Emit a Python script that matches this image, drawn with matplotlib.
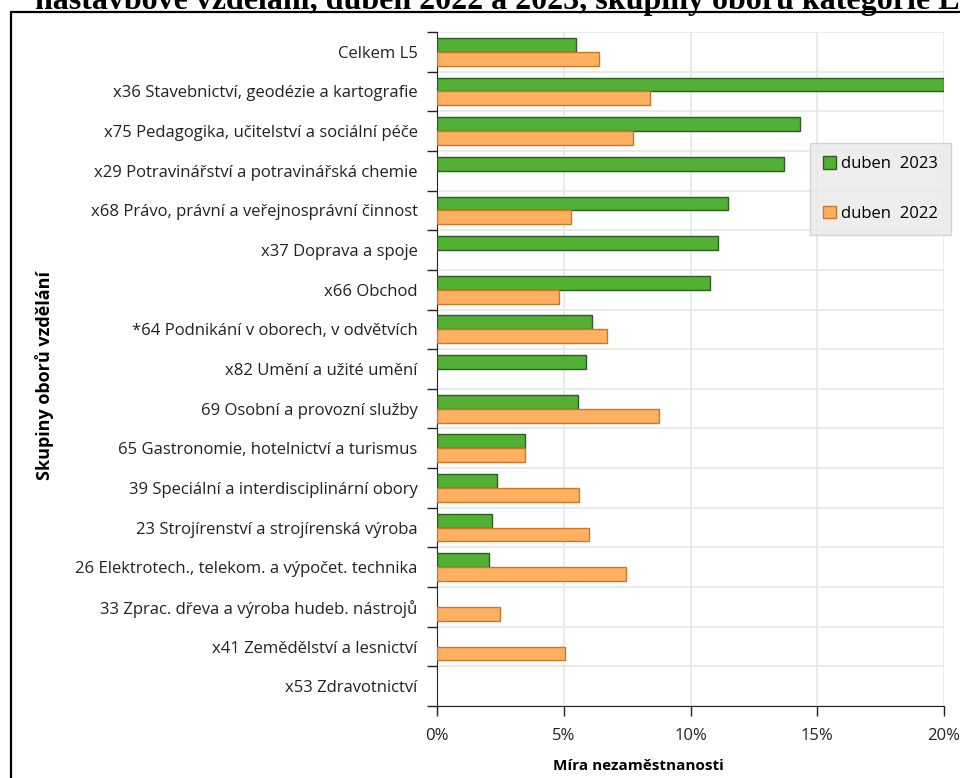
import numpy as np
import matplotlib
matplotlib.use('Agg')
import matplotlib.pyplot as plt
from matplotlib.patches import Rectangle
from matplotlib.ticker import FuncFormatter, MultipleLocator

# data (unemployment rate in %)
categories = ['Celkem L5',
              'x36 Stavebnictví, geodézie a kartografie',
              'x75 Pedagogika, učitelství a sociální péče',
              'x29 Potravinářství a potravinářská chemie',
              'x68 Právo, právní a veřejnosprávní činnost',
              'x37 Doprava a spoje',
              'x66 Obchod',
              '*64 Podnikání v oborech, v odvětvích',
              'x82 Umění a užité umění',
              '69 Osobní a provozní služby',
              '65 Gastronomie, hotelnictví a turismus',
              '39 Speciální a interdisciplinární obory',
              '23 Strojírenství a strojírenská výroba',
              '26 Elektrotech., telekom. a výpočet. technika',
              '33 Zprac. dřeva a výroba hudeb. nástrojů',
              'x41 Zemědělství a lesnictví',
              'x53 Zdravotnictví']
duben_2023 = [5.48, 20.0, 14.3, 13.7, 11.48, 11.08, 10.77, 6.11, 5.88, 5.56,
              3.47, 2.37, 2.17, 2.05, None, None, None]
duben_2022 = [6.39, 8.4, 7.73, None, 5.29, None, 4.81, 6.71, None, 8.76,
              3.47, 5.6, 6.0, 7.46, 2.49, 5.05, None]

v23 = np.array([np.nan if v is None else v for v in duben_2023])
v22 = np.array([np.nan if v is None else v for v in duben_2022])

plt.rcParams['font.family'] = ['Open Sans', 'DejaVu Sans']

fig = plt.figure(figsize=(9.6, 7.78), dpi=100)
ax = fig.add_axes([437/960, 1-706/778, 507/960, 674/778])

n = len(categories)
y = np.arange(n)
h = 0.35
ax.barh(y - h/2, v23, height=h, color='#52b035', edgecolor='#2a5e1e',
        linewidth=1, label='duben  2023', zorder=3)
ax.barh(y + h/2, v22, height=h, color='#ffb061', edgecolor='#cc7628',
        linewidth=1, label='duben  2022', zorder=3)

ax.set_ylim(n - 0.5, -0.5)
ax.set_xlim(0, 20)
ax.xaxis.set_major_locator(MultipleLocator(5))
ax.xaxis.set_major_formatter(FuncFormatter(lambda v, p: '%d%%' % v))

ax.set_yticks(y)
ax.set_yticklabels(categories, fontsize=12, color='#222222')
ax.set_yticks(np.arange(n + 1) - 0.5, minor=True)
ax.tick_params(axis='y', which='major', length=0, pad=14)
ax.tick_params(axis='y', which='minor', length=7, width=1, color='#222222')
ax.tick_params(axis='x', which='major', length=7, width=1, labelsize=12,
               pad=9, color='#222222', labelcolor='#222222')

ax.grid(axis='x', which='major', color='#e6e6e6', linewidth=1.2, zorder=0)
ax.grid(axis='y', which='minor', color='#e6e6e6', linewidth=1.2, zorder=0)
for s in ['top', 'right']:
    ax.spines[s].set_visible(False)
ax.spines['left'].set_color('#222222')
ax.spines['bottom'].set_color('#222222')

ax.set_xlabel('Míra nezaměstnanosti', fontsize=11, fontweight='bold')
ax.xaxis.set_label_coords(0.397, -0.079)
fig.text(45/960, 1-376/778, 'Skupiny oborů vzdělání', rotation=90, fontsize=13,
         fontweight='bold', ha='center', va='center')

leg = ax.legend(loc='upper left', bbox_to_anchor=(810/960, 1-143/778),
                bbox_transform=fig.transFigure, fontsize=12, frameon=True,
                fancybox=False, facecolor='#e9e9e9', edgecolor='#cccccc',
                handlelength=0.75, handleheight=0.75, handletextpad=0.3,
                labelspacing=2.0, borderpad=0.8, borderaxespad=0)
leg.get_frame().set_linewidth(1)

# outer frame and the clipped title line above it
fig.patches.append(Rectangle((11/960, -0.05), 1.2, 1 - 12/778 + 0.05,
                             transform=fig.transFigure, fill=False,
                             edgecolor='black', linewidth=1.6))
fig.text(35/960, 1 - 9/778,
         'nástavbové vzdělání, duben 2022 a 2023, skupiny oborů kategorie L5',
         family='Liberation Serif', fontweight='bold', fontsize=23,
         ha='left', va='baseline')

fig.savefig('out.png', dpi=100)
